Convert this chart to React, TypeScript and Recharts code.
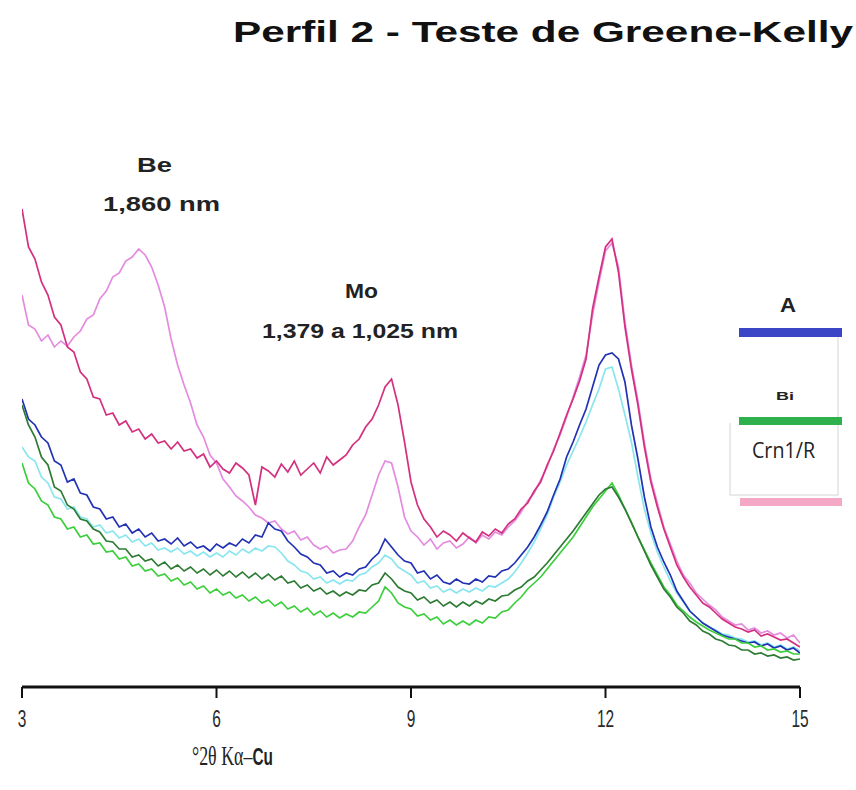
import { LineChart, Line, XAxis, YAxis } from "recharts"

// ─── Data (diffractogram intensities, arbitrary units, 0.1° steps from 3° to 15°) ───

const magenta = [
  478, 440, 428, 405, 392, 370, 362, 340, 335, 315,
  308, 290, 288, 272, 274, 262, 266, 255, 258, 248,
  253, 244, 246, 238, 245, 236, 238, 229, 233, 220,
  226, 218, 214, 224, 219, 212, 182, 220, 216, 210,
  223, 215, 226, 212, 218, 224, 214, 230, 222, 227,
  232, 242, 248, 260, 268, 282, 300, 308, 282, 245,
  205, 182, 168, 160, 150, 156, 152, 146, 154, 149,
  145, 155, 151, 158, 154, 163, 168, 178, 184, 196,
  205, 222, 236, 254, 272, 288, 306, 328, 378, 410,
  440, 448, 415, 360, 318, 282, 240, 205, 180, 158,
  140, 122, 110, 100, 92, 84, 80, 74, 68, 64,
  60, 58, 55, 57, 51, 53, 50, 47, 48, 44,
  40,
]

const orchid = [
  392, 362, 358, 346, 352, 340, 346, 341, 350, 356,
  368, 372, 388, 396, 410, 414, 426, 430, 438, 432,
  420, 402, 380, 348, 322, 302, 284, 262, 250, 232,
  224, 208, 200, 191, 186, 180, 172, 169, 164, 166,
  158, 153, 156, 147, 150, 142, 138, 141, 134, 137,
  138, 146, 160, 172, 192, 212, 226, 224, 200, 170,
  156, 150, 142, 148, 138, 144, 146, 139, 143, 150,
  144, 152, 148, 155, 152, 160, 166, 175, 186, 194,
  207, 220, 238, 252, 270, 290, 310, 332, 372, 405,
  436, 444, 420, 365, 322, 286, 244, 208, 184, 160,
  143, 126, 112, 104, 94, 88, 82, 77, 70, 66,
  62, 63, 57, 59, 54, 56, 52, 54, 49, 52,
  44,
]

const blue = [
  288, 268, 262, 250, 244, 226, 222, 205, 208, 194,
  192, 180, 178, 168, 170, 160, 163, 154, 158, 150,
  154, 146, 148, 143, 149, 141, 145, 139, 141, 136,
  143, 139, 144, 141, 148, 144, 152, 150, 164, 158,
  156, 146, 140, 133, 130, 124, 122, 114, 116, 110,
  114, 112, 118, 120, 128, 134, 148, 140, 132, 126,
  124, 114, 116, 108, 112, 105, 103, 108, 104, 103,
  108, 105, 111, 110, 116, 118, 124, 132, 140, 150,
  162, 175, 192, 208, 230, 245, 262, 278, 300, 322,
  332, 334, 328, 305, 262, 228, 190, 160, 140, 125,
  112, 96, 86, 76, 70, 64, 60, 56, 52, 50,
  48, 46, 44, 45, 41, 43, 39, 41, 37, 39,
  34,
]

const cyan = [
  240, 230, 226, 210, 204, 190, 188, 178, 180, 170,
  168, 160, 162, 154, 156, 149, 152, 145, 148, 141,
  144, 137, 139, 135, 139, 133, 136, 131, 135, 130,
  134, 130, 136, 132, 138, 134, 139, 136, 141, 140,
  134, 126, 122, 116, 114, 108, 110, 104, 107, 103,
  107, 106, 112, 114, 120, 124, 132, 128, 120, 116,
  112, 104, 106, 99, 101, 95, 98, 94, 98, 95,
  99, 96, 101, 100, 104, 108, 115, 124, 134, 145,
  158, 172, 190, 205, 222, 236, 250, 265, 282, 298,
  318, 320, 298, 272, 245, 210, 178, 154, 135, 120,
  106, 94, 85, 76, 70, 64, 60, 57, 53, 52,
  49, 48, 45, 46, 42, 44, 40, 42, 38, 40,
  36,
]

const darkGreen = [
  282, 262, 250, 230, 222, 200, 196, 182, 178, 168,
  166, 158, 155, 146, 145, 138, 138, 130, 132, 126,
  128, 121, 125, 118, 122, 116, 120, 114, 118, 112,
  117, 111, 116, 110, 115, 109, 114, 108, 113, 107,
  111, 104, 106, 99, 102, 96, 99, 93, 96, 91,
  95, 92, 97, 96, 102, 104, 114, 108, 100, 96,
  94, 87, 90, 84, 87, 81, 85, 80, 85, 81,
  86, 83, 88, 86, 91, 92, 97, 100, 106, 110,
  117, 124, 132, 140, 148, 156, 165, 174, 183, 192,
  198, 200, 190, 178, 164, 150, 136, 122, 110, 98,
  90, 80, 74, 66, 62, 56, 53, 48, 46, 42,
  41, 37, 37, 33, 34, 31, 32, 29, 30, 27,
  28,
]

const lightGreen = [
  224, 204, 198, 186, 182, 170, 168, 158, 160, 150,
  152, 143, 144, 135, 136, 128, 130, 121, 123, 116,
  118, 111, 113, 106, 109, 102, 105, 98, 101, 94,
  98, 92, 95, 89, 92, 86, 90, 84, 87, 81,
  85, 78, 81, 75, 79, 72, 76, 70, 74, 69,
  73, 70, 75, 74, 80, 86, 100, 94, 84, 80,
  78, 71, 73, 67, 70, 63, 67, 62, 66, 62,
  67, 64, 70, 69, 75, 77, 84, 90, 98, 104,
  110, 118, 126, 134, 142, 150, 160, 170, 180, 188,
  196, 204, 192, 178, 165, 150, 137, 124, 112, 100,
  92, 82, 76, 70, 65, 61, 57, 54, 51, 48,
  48, 44, 44, 40, 41, 37, 38, 35, 36, 33,
  33,
]

const xTicks = [3, 6, 9, 12, 15]

const chartData = magenta.map((m, i) => ({
  angle: +(3 + i * 0.1).toFixed(1),
  magenta: m,
  orchid: orchid[i],
  blue: blue[i],
  cyan: cyan[i],
  darkGreen: darkGreen[i],
  lightGreen: lightGreen[i],
}))

// ─── Styles ─────────────────────────────────────────────────────────────────

const sans = "'Liberation Sans', Arial, sans-serif"
const serif = "'Liberation Serif', 'DejaVu Serif', serif"

const series = [
  { key: "orchid", color: "#e48be0" },
  { key: "magenta", color: "#d3307f" },
  { key: "cyan", color: "#88e6ee" },
  { key: "blue", color: "#2232b4" },
  { key: "lightGreen", color: "#3ccf3c" },
  { key: "darkGreen", color: "#2e7b34" },
]

// narrow-looking tick labels, as in the scanned figure
function AngleTick({ x, y, payload }: { x?: number; y?: number; payload?: { value: number } }) {
  const label = String(payload?.value ?? "")
  return (
    <text x={x} y={(y ?? 0) + 17} textAnchor="middle" fontFamily={sans} fontSize={24} fill="#2a2a2a"
      textLength={label.length * 8.6} lengthAdjust="spacingAndGlyphs">
      {label}
    </text>
  )
}

export default function App() {
  return (
    <div style={{ position: "absolute", left: 0, top: 0, width: 856, height: 790, background: "#fff" }}>
      <LineChart
        width={856}
        height={790}
        data={chartData}
        margin={{ top: 200, right: 56, left: 22, bottom: 43 }}
      >
        <XAxis
          dataKey="angle"
          type="number"
          domain={[3, 15]}
          ticks={xTicks}
          height={60}
          allowDataOverflow
          axisLine={{ stroke: "#111", strokeWidth: 3 }}
          tickLine={{ stroke: "#111", strokeWidth: 2 }}
          tickSize={11}
          tickMargin={12}
          tick={<AngleTick />}
        />
        <YAxis hide type="number" domain={[0, 487]} allowDataOverflow />
        {series.map(s => (
          <Line
            key={s.key}
            type="linear"
            dataKey={s.key}
            stroke={s.color}
            strokeWidth={1.7}
            dot={false}
            isAnimationActive={false}
          />
        ))}
      </LineChart>

      {/* Annotations, axis title and legend */}
      <svg
        width={856}
        height={790}
        style={{ position: "absolute", left: 0, top: 0, pointerEvents: "none" }}
      >
        <text x={233} y={42} fontFamily={sans} fontWeight="bold" fontSize={30} fill="#111"
          textLength={620} lengthAdjust="spacingAndGlyphs">
          Perfil 2 - Teste de Greene-Kelly
        </text>

        <text x={137} y={172} fontFamily={sans} fontWeight="bold" fontSize={21} fill="#222"
          textLength={35} lengthAdjust="spacingAndGlyphs">Be</text>
        <text x={103} y={211} fontFamily={sans} fontWeight="bold" fontSize={21} fill="#222"
          textLength={117} lengthAdjust="spacingAndGlyphs">1,860 nm</text>
        <text x={345} y={298} fontFamily={sans} fontWeight="bold" fontSize={21} fill="#222"
          textLength={33} lengthAdjust="spacingAndGlyphs">Mo</text>
        <text x={262} y={338} fontFamily={sans} fontWeight="bold" fontSize={21} fill="#222"
          textLength={196} lengthAdjust="spacingAndGlyphs">1,379 a 1,025 nm</text>

        {/* x-axis title, squeezed horizontally like the scan */}
        <g transform="translate(192,765) scale(0.64,1)">
          <text x={0} y={0} fontSize={28} fill="#222">
            <tspan fontFamily={serif}>°2θ Kα–</tspan>
            <tspan fontFamily={sans} fontWeight="bold" fontSize={24}>Cu</tspan>
          </text>
        </g>

        {/* legend */}
        <text x={780} y={312} fontFamily={sans} fontWeight="bold" fontSize={20} fill="#222"
          textLength={16} lengthAdjust="spacingAndGlyphs">A</text>
        <line x1={838} y1={337} x2={838} y2={495} stroke="#d4d4d4" strokeWidth={1} />
        <line x1={730} y1={423} x2={730} y2={495} stroke="#d4d4d4" strokeWidth={1} />
        <line x1={730} y1={495} x2={838} y2={495} stroke="#d4d4d4" strokeWidth={1} />
        <rect x={739} y={328} width={103} height={9} fill="#3a46c6" />
        <text x={776} y={400} fontFamily={sans} fontWeight="bold" fontSize={11} fill="#222"
          textLength={18} lengthAdjust="spacingAndGlyphs">Bi</text>
        <rect x={739} y={417} width={103} height={8} fill="#2eb04c" />
        <text x={752} y={458} fontFamily="'Open Sans', sans-serif" fontSize={21} fill="#222"
          textLength={63} lengthAdjust="spacingAndGlyphs">Crn1/R</text>
        <rect x={740} y={498} width={102} height={8} fill="#f4a8c6" />
      </svg>
    </div>
  )
}
